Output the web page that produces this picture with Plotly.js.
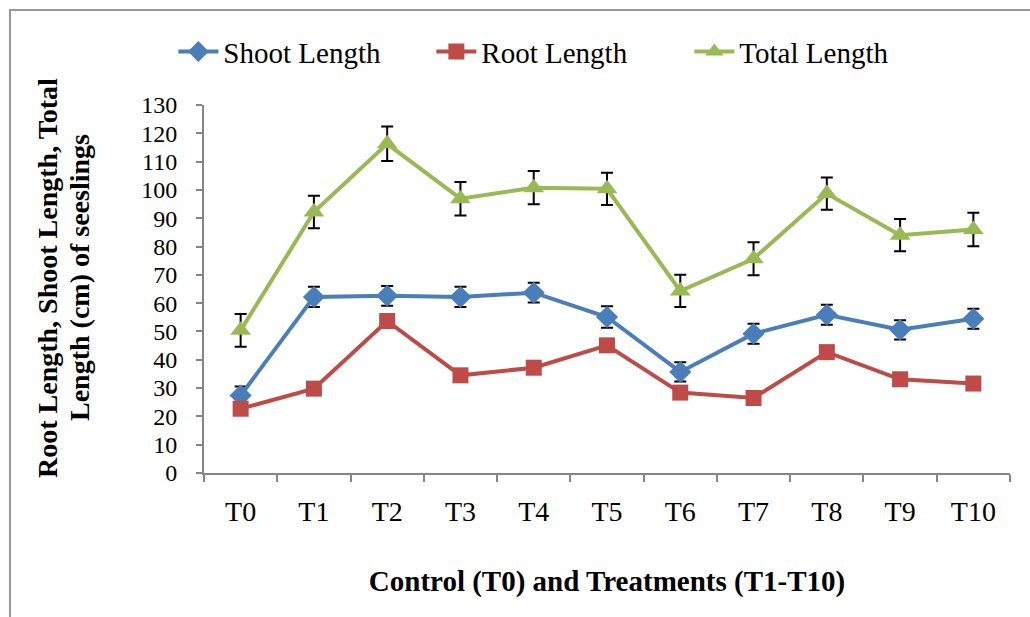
<!DOCTYPE html>
<html>
<head>
<meta charset="utf-8">
<script src="https://cdn.plot.ly/plotly-3.0.1.min.js"></script>
<style>
html,body{margin:0;padding:0;background:#fff;}
#chart{width:1030px;height:617px;}
</style>
</head>
<body>
<div id="chart"></div>
<script>
var categories = ["T0","T1","T2","T3","T4","T5","T6","T7","T8","T9","T10"];
var shootLength = [27.4, 62.2, 62.6, 62.2, 63.7, 55.1, 35.7, 49.2, 55.9, 50.6, 54.5];
var shootErr    = [3.2, 3.6, 3.5, 3.6, 3.5, 3.8, 3.4, 3.5, 3.5, 3.4, 3.5];
var rootLength  = [22.7, 29.8, 53.7, 34.5, 37.2, 45.1, 28.4, 26.5, 42.7, 33.1, 31.6];
var rootErr     = [1.8, 1.8, 1.8, 1.8, 1.8, 1.8, 1.8, 1.8, 1.8, 1.8, 1.8];
var totalLength = [50.4, 92.2, 116.3, 96.9, 100.8, 100.4, 64.3, 75.7, 98.7, 84.0, 86.0];
var totalErr    = [5.8, 5.7, 6.1, 5.9, 5.9, 5.7, 5.7, 5.8, 5.7, 5.7, 5.9];
var yTicks = [0,10,20,30,40,50,60,70,80,90,100,110,120,130];
var yTitleLines = ["Root Length, Shoot Length, Total", "Length (cm) of seeslings"];

var FONT = "Liberation Serif, Times New Roman, serif";
function err(a){ return {type:"data", array:a, visible:true, color:"#000", thickness:2, width:6}; }

var traces = [
  {x:categories, y:shootLength, name:"Shoot Length", type:"scatter", mode:"lines+markers",
   line:{color:"#4A7EBB", width:4}, marker:{symbol:"diamond", size:17, color:"#4A7EBB"}, error_y:err(shootErr)},
  {x:categories, y:rootLength, name:"Root Length", type:"scatter", mode:"lines+markers",
   line:{color:"#BE4B48", width:4}, marker:{symbol:"square", size:16, color:"#BE4B48"}, error_y:err(rootErr)},
  {x:categories, y:totalLength, name:"Total Length", type:"scatter", mode:"lines+markers",
   line:{color:"#98B954", width:4}, marker:{symbol:"triangle-up", size:18, color:"#98B954"}, error_y:err(totalErr)}
];

var layout = {
  width:1030, height:617,
  paper_bgcolor:"#fff", plot_bgcolor:"#fff",
  margin:{l:204, r:20, t:105, b:144},
  font:{family:FONT, size:28, color:"#000"},
  showlegend:true,
  legend:{orientation:"h", x:-0.038, xanchor:"left", y:1.145, yanchor:"middle",
          font:{family:FONT, size:29, color:"#000"}, itemwidth:40, tracegroupgap:0,
          entrywidth:203, entrywidthmode:"pixels"},
  xaxis:{type:"category", categoryorder:"array", categoryarray:categories,
         showline:true, linecolor:"#868686", linewidth:2,
         ticks:"outside", tickson:"boundaries", ticklen:7, tickcolor:"#868686", tickwidth:2,
         showgrid:false, zeroline:false, range:[-0.5,10.5],
         tickfont:{family:FONT, size:28}, automargin:false, ticklabelstandoff:12,
         title:{text:"<b>Control (T0) and Treatments (T1-T10)</b>", font:{family:FONT, size:29}, standoff:45}},
  yaxis:{range:[0,130], tickvals:yTicks, ticktext:yTicks.map(String),
         showline:true, linecolor:"#868686", linewidth:2,
         ticks:"outside", ticklen:6, tickcolor:"#868686", tickwidth:2,
         showgrid:false, zeroline:false, automargin:false, ticklabelstandoff:14,
         tickfont:{family:FONT, size:24}},
  annotations:[
    {text:"<b>"+yTitleLines[0]+"</b>", xref:"paper", yref:"paper", x:(47-204)/806, y:(473-278)/368,
     xanchor:"center", yanchor:"middle", textangle:-90, showarrow:false, font:{family:FONT, size:28, color:"#000"}},
    {text:"<b>"+yTitleLines[1]+"</b>", xref:"paper", yref:"paper", x:(79-204)/806, y:(473-278)/368,
     xanchor:"center", yanchor:"middle", textangle:-90, showarrow:false, font:{family:FONT, size:28, color:"#000"}}
  ],
  shapes:[{type:"rect", xref:"paper", yref:"paper", x0:(10-204)/806, x1:1.2, y0:-0.6, y1:(473-10)/368,
           line:{color:"#999", width:2}, fillcolor:"rgba(0,0,0,0)", layer:"below"}]
};

Plotly.newPlot("chart", traces, layout, {displayModeBar:false, staticPlot:true});
</script>
</body>
</html>
